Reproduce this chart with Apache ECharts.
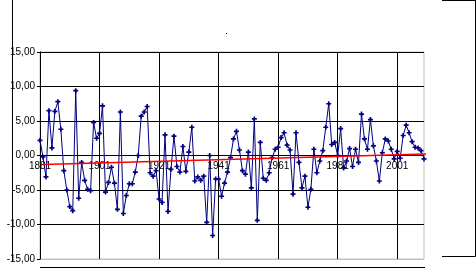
<!DOCTYPE html>
<html>
<head>
<meta charset="utf-8">
<script src="https://cdn.jsdelivr.net/npm/echarts@6/dist/echarts.min.js"></script>
<style>
html,body{margin:0;padding:0;background:#fff;}
#chart{width:476px;height:276px;}
</style>
</head>
<body>
<div id="chart"></div>
<script>
// ---- data ----
var startYear = 1881;
var values = [
  2.2, -0.2, -3.1, 6.5, 1.1, 6.4, 7.8, 3.8, -2.2, -5.0,
  -7.4, -8.0, 9.4, -6.2, -1.0, -3.6, -4.9, -5.1, 4.8, 2.5,
  3.2, 7.2, -5.3, -3.9, -1.7, -4.0, -7.8, 6.3, -8.4, -5.8,
  -4.1, -4.1, -2.4, 0.0, 5.7, 6.3, 7.1, -2.5, -3.0, -2.2,
  -6.3, -6.8, 3.0, -8.1, -2.0, 2.8, -1.6, -2.4, 1.3, -2.3,
  0.5, 4.1, -3.7, -3.1, -3.6, -3.0, -9.7, 0.0, -11.6, -3.4,
  -3.4, -5.9, -4.0, -2.4, -0.3, 2.4, 3.5, 0.8, -2.2, -2.7,
  0.5, -4.7, 5.3, -9.4, 1.9, -3.3, -3.6, -2.5, -0.3, 0.9,
  1.2, 2.6, 3.3, 1.5, 0.8, -5.6, 3.3, -1.0, -4.7, -3.0,
  -7.5, -4.9, 0.9, -2.5, -0.8, 0.7, 4.1, 7.5, 1.6, 1.9,
  0.0, 3.9, -1.8, -0.8, 1.0, -1.6, 0.9, -1.0, 6.0, 2.4,
  0.9, 5.2, 1.4, -0.8, -3.7, 0.4, 2.4, 2.1, 0.9, -0.5,
  0.6, -0.4, 2.9, 4.4, 3.3, 2.0, 1.2, 1.1, 0.7, -0.5
];
var categories = [];
for (var k = 0; k < values.length; k++) categories.push(String(startYear + k));
// linear trend line end points: [categoryIndex, value]
var trendStart = [0.8, -1.3];
var trendEnd = [131.3, 0.25];
var yTicks = [-15, -10, -5, 0, 5, 10, 15];

// ---- chart ----
var chart = echarts.init(document.getElementById('chart'), null, {renderer: 'canvas'});
var font = 'Arial, "Liberation Sans", sans-serif';
chart.setOption({
  animation: false,
  backgroundColor: '#ffffff',
  grid: {left: 40, right: 52, top: 52, bottom: 17, show: true, borderColor: '#c0c0c0', borderWidth: 1, backgroundColor: 'transparent'},
  xAxis: {
    type: 'category',
    data: categories,
    boundaryGap: false,
    position: 'bottom',
    offset: -103.5,
    axisLine: {onZero: false, lineStyle: {color: '#000', width: 1}},
    axisTick: {show: false},
    axisLabel: {interval: 19, color: '#000', fontFamily: font, fontSize: 10, margin: 6},
    splitLine: {show: true, interval: 19, lineStyle: {color: '#000', width: 1}}
  },
  yAxis: {
    type: 'value',
    min: yTicks[0], max: yTicks[yTicks.length - 1], interval: 5,
    axisLine: {show: true, onZero: false, lineStyle: {color: '#000'}},
    axisTick: {show: true, length: 3, lineStyle: {color: '#000'}},
    axisLabel: {color: '#000', fontFamily: font, fontSize: 10, margin: 5,
      formatter: function (v) { return v.toFixed(2).replace('.', ','); }},
    splitLine: {show: true, lineStyle: {color: ['#c0c0c0', '#000', '#000', '#000', '#000', '#000', '#000'], width: 1}}
  },
  series: [{
    type: 'line',
    data: values,
    symbol: 'path://M2,0H4V2H6V4H4V6H2V4H0V2H2Z',
    symbolSize: 5,
    showAllSymbol: true,
    lineStyle: {color: '#000080', width: 1},
    itemStyle: {color: '#000080'},
    z: 3
  }, {
    type: 'line',
    data: [trendStart, trendEnd],
    symbol: 'none',
    clip: false,
    lineStyle: {color: '#ff0000', width: 1.5},
    z: 4
  }],
  graphic: [
    {type: 'line', shape: {x1: 12.5, y1: 0, x2: 12.5, y2: 262}, style: {stroke: '#000', lineWidth: 1}},
    {type: 'line', shape: {x1: 40, y1: 267.5, x2: 425, y2: 267.5}, style: {stroke: '#000', lineWidth: 1}},
    {type: 'line', shape: {x1: 442, y1: 0.5, x2: 475.5, y2: 0.5}, style: {stroke: '#000', lineWidth: 1}},
    {type: 'line', shape: {x1: 475.5, y1: 0, x2: 475.5, y2: 256.5}, style: {stroke: '#000', lineWidth: 1}},
    {type: 'line', shape: {x1: 442, y1: 256.5, x2: 475.5, y2: 256.5}, style: {stroke: '#000', lineWidth: 1}},
    {type: 'rect', shape: {x: 226, y: 33, width: 1, height: 1}, style: {fill: '#000'}}
  ]
});
</script>
</body>
</html>
